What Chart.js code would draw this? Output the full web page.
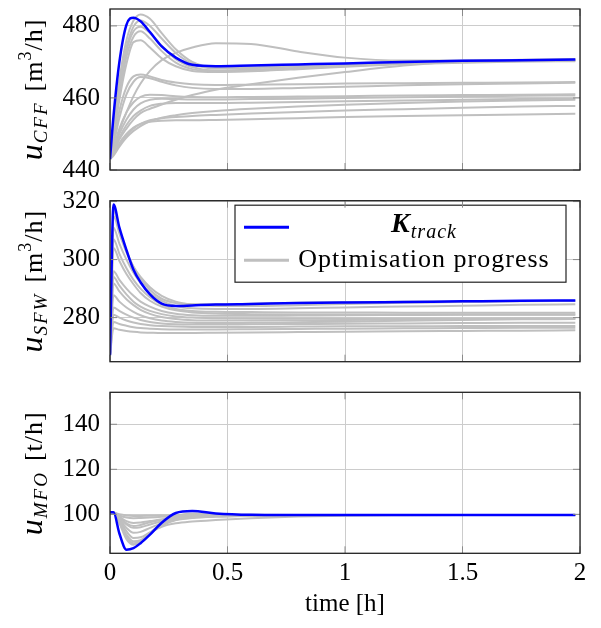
<!DOCTYPE html>
<html>
<head>
<meta charset="utf-8">
<script src="https://cdn.jsdelivr.net/npm/chart.js@4.4.0/dist/chart.umd.min.js"></script>
<style>
  body { margin: 0; background: #fff; }
  #wrap { position: relative; width: 601px; height: 628px; }
  #wrap canvas { position: absolute; left: 0; }
</style>
</head>
<body>
<div id="wrap">
  <canvas id="cff_chart" width="601" height="178" style="top:0px"></canvas>
  <canvas id="sfw_chart" width="601" height="180" style="top:188px"></canvas>
  <canvas id="mfo_chart" width="601" height="248" style="top:380px"></canvas>
</div>
<script>
// time grid [h]
var time = [0, 0.015, 0.04, 0.07, 0.1, 0.13, 0.17, 0.22, 0.28, 0.35, 0.45, 0.6, 0.8, 1.0, 1.25, 1.5, 1.75, 1.98];

var xTicks = [0, 0.5, 1, 1.5, 2];
var xTickLabels = ["0", "0.5", "1", "1.5", "2"];

// u_CFF [m3/h]
var cffTicks = [440, 460, 480];
var cffTrack = [443, 455, 470, 480.3, 482.3, 481.3, 478.3, 474.3, 471.2, 469.2, 468.8, 469, 469.3, 469.6, 470, 470.3, 470.5, 470.7];
var cffProgress = [
  [443, 452, 465, 476, 481.5, 483.2, 482, 478, 473.5, 470, 468.5, 468.5, 469, 469.5, 470, 470.3, 470.5, 470.6],
  [443, 451, 463, 474, 479.8, 481.5, 480, 476.5, 472.5, 469.5, 468.2, 468.3, 468.8, 469.3, 469.8, 470.2, 470.4, 470.5],
  [443, 450, 462, 473, 478.5, 479.8, 478, 474.5, 470.8, 468.6, 467.6, 467.8, 468.4, 469, 469.6, 470, 470.3, 470.4],
  [443, 450, 461, 471.5, 477, 478.5, 476.5, 473, 469.8, 468, 467.3, 467.5, 468.2, 468.8, 469.5, 469.9, 470.2, 470.3],
  [443, 449, 459.5, 469.5, 475.5, 476, 474, 471, 468.8, 467.5, 467.2, 467.4, 468, 468.7, 469.4, 469.8, 470.1, 470.2],
  [443, 446, 451, 456, 460.5, 464, 467.5, 470.5, 472.5, 474, 475.2, 475, 472.9, 471.2, 470.4, 470.4, 470.5, 470.6],
  [443, 445, 448.5, 451.5, 454, 455.8, 457, 458.2, 459.5, 460.8, 462.3, 463.8, 465.6, 467.2, 469, 470.2, 470.6, 470.8],
  [443, 448, 456.5, 463, 466, 466.5, 466, 465, 464.3, 463.8, 463.6, 463.7, 463.8, 464, 464.1, 464.2, 464.3, 464.4],
  [443, 447, 454.5, 461, 464.5, 465.8, 465.5, 464.5, 463.5, 462.8, 462.5, 462.5, 462.8, 463.1, 463.5, 463.8, 464, 464.2],
  [443, 446, 451.5, 456, 458.8, 460.3, 460.9, 460.8, 460.5, 460.3, 460.2, 460.3, 460.4, 460.5, 460.7, 460.8, 460.9, 461],
  [443, 445.5, 450, 454, 456.8, 458.5, 459.5, 459.8, 459.7, 459.6, 459.6, 459.7, 459.8, 460, 460.2, 460.4, 460.6, 460.7],
  [443, 445, 449, 452.5, 455, 456.5, 457.8, 458.4, 458.6, 458.6, 458.6, 458.7, 458.9, 459.1, 459.3, 459.5, 459.7, 459.8],
  [443, 444.5, 447, 449.5, 451.5, 452.8, 453.8, 454.4, 454.7, 455, 455.3, 455.7, 456.1, 456.5, 456.9, 457.3, 457.6, 457.8],
  [443, 444.5, 447.5, 450, 451.8, 452.8, 453.4, 453.7, 453.8, 453.8, 453.9, 454.1, 454.4, 454.7, 455, 455.2, 455.4, 455.6],
  [443, 444, 446.5, 449, 450.8, 452.2, 453.5, 454.5, 455.2, 455.8, 456.4, 457, 457.6, 458.1, 458.6, 459, 459.3, 459.5]
];

// u_SFW [m3/h]
var sfwTicks = [280, 300, 320];
var sfwTrack = [267, 319, 311, 303.3, 296.5, 292.2, 288, 284.8, 284, 284.2, 284.5, 284.7, 285, 285.2, 285.4, 285.6, 285.8, 285.9];
var sfwProgress = [
  [267, 317, 310, 303, 297.5, 293.5, 289.5, 286.5, 285, 284.6, 284.6, 284.8, 285.1, 285.3, 285.5, 285.6, 285.7, 285.8],
  [267, 315, 309, 302.5, 297.5, 294, 290.5, 287.5, 285.5, 284.5, 284, 284, 284.3, 284.7, 285.1, 285.4, 285.6, 285.8],
  [267, 311, 305.5, 300, 295.5, 292, 288.5, 285.8, 284, 283.2, 283, 283, 283.2, 283.5, 283.8, 284.1, 284.4, 284.6],
  [267, 307, 302, 297, 293, 290, 287, 284.5, 283, 282.3, 282, 281.9, 281.8, 281.8, 281.7, 281.7, 281.7, 281.7],
  [267, 304, 299.5, 295, 291.5, 288.5, 285.8, 283.8, 282.5, 281.8, 281.4, 281.2, 281.1, 281.1, 281.1, 281.1, 281.1, 281.1],
  [267, 296, 293, 290, 287.5, 285.5, 283.8, 282.3, 281.3, 280.8, 280.6, 280.6, 280.7, 280.8, 280.9, 281, 281, 281],
  [267, 294, 291, 288, 285.5, 283.8, 282.3, 281.2, 280.4, 280, 279.8, 279.7, 279.7, 279.7, 279.7, 279.7, 279.7, 279.7],
  [267, 291.8, 289, 286.3, 284.3, 282.7, 281.3, 280.2, 279.5, 279.1, 279, 279, 279.1, 279.2, 279.4, 279.5, 279.6, 279.7],
  [267, 287.7, 285.5, 283.5, 282, 280.8, 279.8, 279, 278.5, 278.2, 278.1, 278.2, 278.4, 278.6, 278.9, 279.2, 279.4, 279.5],
  [267, 283.5, 282.3, 281, 280, 279.2, 278.5, 278, 277.7, 277.6, 277.6, 277.7, 277.8, 277.9, 278, 278.1, 278.2, 278.2],
  [267, 281, 280, 279, 278.3, 277.8, 277.4, 277.1, 276.9, 276.8, 276.8, 276.8, 276.9, 277, 277, 277.1, 277.1, 277.1],
  [267, 278.5, 277.8, 277.2, 276.7, 276.4, 276.2, 276, 275.9, 275.9, 275.9, 276, 276.1, 276.2, 276.3, 276.4, 276.5, 276.5],
  [267, 276.3, 275.8, 275.4, 275.1, 274.9, 274.8, 274.7, 274.7, 274.7, 274.8, 274.9, 275, 275.1, 275.3, 275.4, 275.5, 275.6]
];

// u_MFO [t/h]
var mfoTicks = [100, 120, 140];
var mfoTrack = [100.9, 100.9, 91.5, 84.3, 85, 87.2, 91, 96.3, 100.6, 101.5, 100.4, 99.8, 99.7, 99.7, 99.7, 99.7, 99.7, 99.7];
var mfoProgress = [
  [100.9, 100.8, 97, 91, 88, 88.5, 91.5, 95, 97.5, 98.8, 99.3, 99.6, 99.7, 99.7, 99.7, 99.7, 99.7, 99.7],
  [100.9, 100.8, 97.5, 92.5, 89.5, 89.8, 92, 94.5, 96, 96.8, 97.5, 98.3, 99, 99.4, 99.6, 99.7, 99.7, 99.7],
  [100.9, 100.8, 98, 94, 91.8, 92.2, 94, 96, 97.5, 98.4, 99, 99.4, 99.6, 99.7, 99.7, 99.7, 99.7, 99.7],
  [100.9, 100.8, 98.5, 95.5, 94, 94.3, 95.5, 96.8, 97.8, 98.5, 99, 99.4, 99.6, 99.7, 99.7, 99.7, 99.7, 99.7],
  [100.9, 100.8, 99, 97, 96.2, 96.4, 97, 97.8, 98.5, 99, 99.3, 99.5, 99.6, 99.7, 99.7, 99.7, 99.7, 99.7],
  [100.9, 100.8, 99.5, 98.6, 98.3, 98.4, 98.6, 98.9, 99.2, 99.4, 99.5, 99.6, 99.7, 99.7, 99.7, 99.7, 99.7, 99.7],
  [100.9, 100.8, 100, 99.5, 99.3, 99.3, 99.4, 99.5, 99.6, 99.6, 99.7, 99.7, 99.7, 99.7, 99.7, 99.7, 99.7, 99.7],
  [100.9, 100.8, 96, 89, 86.5, 87.5, 91.5, 96, 99.3, 100.4, 100, 99.8, 99.7, 99.7, 99.7, 99.7, 99.7, 99.7],
  [100.9, 100.8, 96.5, 90, 87.2, 88, 91.8, 95.5, 98.3, 99.6, 99.8, 99.7, 99.7, 99.7, 99.7, 99.7, 99.7, 99.7],
  [100.9, 100.8, 98.8, 96, 94.8, 95.3, 96.5, 97.5, 98.2, 98.7, 99.1, 99.4, 99.6, 99.7, 99.7, 99.7, 99.7, 99.7]
];

// axis labels: u_<sub> <unit>
var axisSubs = ["CFF", "SFW", "MFO"];
var axisUnits = [["[m", "3", "/h]"], ["[m", "3", "/h]"], ["[t/h]", "", ""]];
var legendLabels = ["track", "Optimisation progress"];

var SERIF = "'Liberation Serif', 'DejaVu Serif', serif";
var BLUE = "#0000ff";
var GRAY = "#bfbfbf";

function toPoints(values) {
  return values.map(function (v, i) { return { x: time[i], y: v }; });
}

// box round the plot + short inner ticks like pgfplots
var framePlugin = {
  id: "frame",
  afterDraw: function (chart) {
    var a = chart.chartArea, ctx = chart.ctx;
    var xs = chart.scales.x, ys = chart.scales.y;
    ctx.save();
    ctx.strokeStyle = "#8a8a8a";
    ctx.lineWidth = 1;
    ctx.beginPath();
    xTicks.forEach(function (v) {
      var px = xs.getPixelForValue(v);
      ctx.moveTo(px, a.top); ctx.lineTo(px, a.top + 7);
      ctx.moveTo(px, a.bottom); ctx.lineTo(px, a.bottom - 7);
    });
    ys.ticks.forEach(function (t) {
      var py = ys.getPixelForValue(t.value);
      ctx.moveTo(a.left, py); ctx.lineTo(a.left + 7, py);
      ctx.moveTo(a.right, py); ctx.lineTo(a.right - 7, py);
    });
    ctx.stroke();
    ctx.strokeStyle = "#222";
    ctx.lineWidth = 1.3;
    ctx.strokeRect(a.left, a.top, a.right - a.left, a.bottom - a.top);
    ctx.restore();
  }
};

// rotated y label with subscript / superscript
var yLabelPlugin = {
  id: "yLabel",
  afterDraw: function (chart, args, opts) {
    var a = chart.chartArea, ctx = chart.ctx;
    var unit = axisUnits[opts.index];
    var parts = [
      { text: "u", font: "italic 32px " + SERIF, dy: 0, gap: 1, ls: "0px" },
      { text: axisSubs[opts.index], font: "italic 19px " + SERIF, dy: 5, gap: 10, ls: "2px" },
      { text: unit[0], font: "26px " + SERIF, dy: 0, gap: 0, ls: "1px" },
      { text: unit[1], font: "18px " + SERIF, dy: -11, gap: 1, ls: "0px" },
      { text: unit[2], font: "26px " + SERIF, dy: 0, gap: 0, ls: "1px" }
    ];
    ctx.save();
    ctx.translate(42, (a.top + a.bottom) / 2);
    ctx.rotate(-Math.PI / 2);
    ctx.fillStyle = "#000";
    ctx.textBaseline = "alphabetic";
    var total = 0;
    parts.forEach(function (p) {
      ctx.font = p.font; ctx.letterSpacing = p.ls;
      total += ctx.measureText(p.text).width + p.gap;
    });
    var x = -total / 2;
    parts.forEach(function (p) {
      ctx.font = p.font; ctx.letterSpacing = p.ls;
      ctx.fillText(p.text, x, p.dy);
      x += ctx.measureText(p.text).width + p.gap;
    });
    ctx.restore();
  }
};

// legend box inside the middle plot
var legendPlugin = {
  id: "insideLegend",
  afterDatasetsDraw: function (chart) {
    var a = chart.chartArea, ctx = chart.ctx;
    var bx = a.left + 125, by = a.top + 4.5;
    var bw = a.right - 14 - bx, bh = 77;
    var cx = bx + 189;
    ctx.save();
    ctx.fillStyle = "#fff";
    ctx.fillRect(bx, by, bw, bh);
    ctx.strokeStyle = "#222";
    ctx.lineWidth = 1.2;
    ctx.strokeRect(bx, by, bw, bh);

    ctx.lineWidth = 3;
    ctx.strokeStyle = BLUE;
    ctx.beginPath(); ctx.moveTo(bx + 9, by + 22); ctx.lineTo(bx + 54, by + 22); ctx.stroke();
    ctx.strokeStyle = GRAY;
    ctx.beginPath(); ctx.moveTo(bx + 9, by + 55); ctx.lineTo(bx + 54, by + 55); ctx.stroke();

    ctx.fillStyle = "#000";
    ctx.textBaseline = "alphabetic";
    ctx.font = "bold italic 28px " + SERIF;
    var wK = ctx.measureText("K").width;
    ctx.font = "italic 20px " + SERIF;
    ctx.letterSpacing = "1px";
    var wS = ctx.measureText(legendLabels[0]).width;
    var x0 = cx - (wK + 1 + wS) / 2;
    ctx.letterSpacing = "0px";
    ctx.font = "bold italic 28px " + SERIF;
    ctx.fillText("K", x0, by + 27);
    ctx.font = "italic 20px " + SERIF;
    ctx.letterSpacing = "1px";
    ctx.fillText(legendLabels[0], x0 + wK + 1, by + 33);

    ctx.font = "26px " + SERIF;
    ctx.letterSpacing = "1px";
    ctx.textAlign = "center";
    ctx.fillText(legendLabels[1], cx, by + 62);
    ctx.restore();
  }
};

function noEdgePadding(s) {
  s.paddingTop = 0;
  s.paddingBottom = 0;
  s.paddingLeft = 0;
  s.paddingRight = 0;
}

function makeChart(id, index, track, progress, yMin, yMax, yTicks, padTop, xHeight, showX, extra) {
  var datasets = [{
    data: toPoints(track),
    borderColor: BLUE,
    borderWidth: 2.5
  }];
  progress.forEach(function (s) {
    datasets.push({ data: toPoints(s), borderColor: GRAY, borderWidth: 2 });
  });
  var ctx = document.getElementById(id).getContext("2d");
  return new Chart(ctx, {
    type: "line",
    data: { datasets: datasets },
    options: {
      responsive: false,
      animation: false,
      events: [],
      layout: { autoPadding: false, padding: { top: padTop, right: 21, bottom: 0, left: 0 } },
      elements: {
        point: { radius: 0 },
        line: { cubicInterpolationMode: "monotone", fill: false }
      },
      scales: {
        x: {
          type: "linear",
          min: 0,
          max: 2,
          afterBuildTicks: function (s) { s.ticks = xTicks.map(function (v) { return { value: v }; }); },
          afterFit: function (s) { s.height = xHeight; noEdgePadding(s); },
          grid: { color: "#cccccc", drawTicks: false },
          border: { display: false },
          ticks: {
            display: showX,
            padding: 5,
            color: "#000",
            font: { family: SERIF, size: 25 },
            maxRotation: 0,
            callback: function (v, i) { return xTickLabels[i]; }
          },
          title: {
            display: showX,
            text: "time [h]",
            color: "#000",
            font: { family: SERIF, size: 25 },
            padding: { top: 0, bottom: 9 }
          }
        },
        y: {
          type: "linear",
          min: yMin,
          max: yMax,
          afterBuildTicks: function (s) { s.ticks = yTicks.map(function (v) { return { value: v }; }); },
          afterFit: function (s) { s.width = 110; noEdgePadding(s); },
          grid: { color: "#cccccc", drawTicks: false },
          border: { display: false },
          ticks: {
            padding: 10,
            color: "#000",
            font: { family: SERIF, size: 25 },
            callback: function (v) { return String(v); }
          }
        }
      },
      plugins: {
        legend: { display: false },
        tooltip: { enabled: false },
        yLabel: { index: index }
      }
    },
    plugins: [framePlugin, yLabelPlugin].concat(extra || [])
  });
}

var cff_chart = makeChart("cff_chart", 0, cffTrack, cffProgress, 440, 484.7, cffTicks, 9, 8, false);
var sfw_chart = makeChart("sfw_chart", 1, sfwTrack, sfwProgress, 264.8, 320.3, sfwTicks, 12.7, 6.3, false, [legendPlugin]);
var mfo_chart = makeChart("mfo_chart", 2, mfoTrack, mfoProgress, 82.7, 154.2, mfoTicks, 12.3, 74.7, true);
</script>
</body>
</html>
